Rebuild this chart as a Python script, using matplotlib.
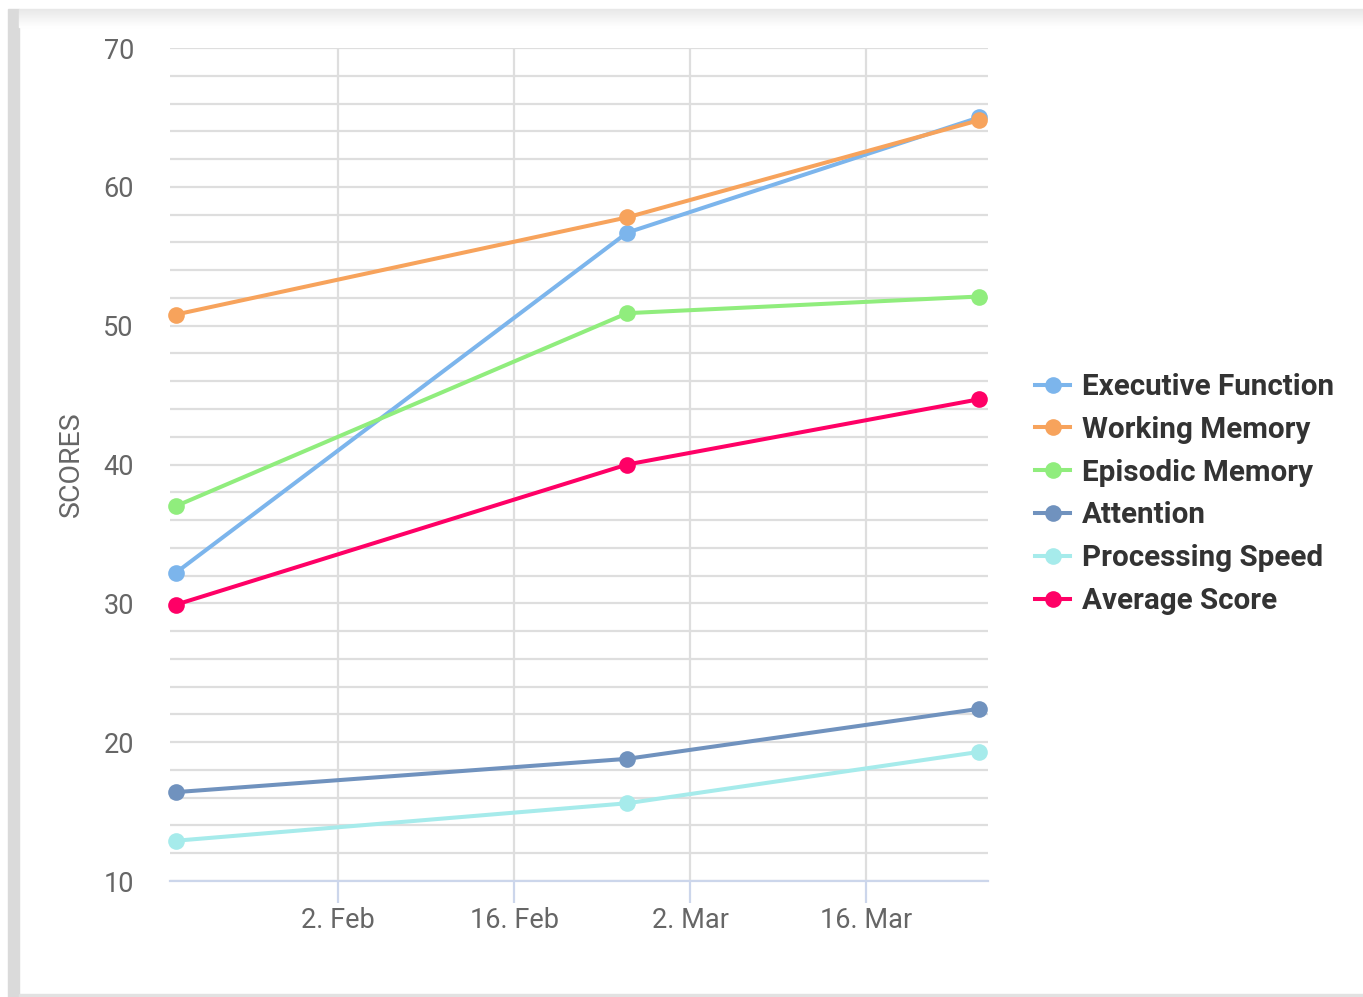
import datetime as dt
import numpy as np
import matplotlib.pyplot as plt
import matplotlib.dates as mdates
from matplotlib.patches import Rectangle
from matplotlib.lines import Line2D

plt.rcParams['font.family'] = ['Roboto', 'DejaVu Sans']

# Data
dates = [dt.datetime(2015, 1, 20, 2), dt.datetime(2015, 2, 25), dt.datetime(2015, 3, 25)]
series_names = ['Executive Function', 'Working Memory', 'Episodic Memory',
                'Attention', 'Processing Speed', 'Average Score']
executive = [32.2, 56.7, 65.0]
working = [50.8, 57.8, 64.8]
episodic = [37.0, 50.9, 52.1]
attention = [16.4, 18.8, 22.4]
processing = [12.9, 15.6, 19.3]
average = [29.9, 40.0, 44.7]
colors = ['#7cb5ec', '#f7a35c', '#90ed7d', '#7092be', '#a6ebeb', '#ff0066']
tick_dates = [dt.datetime(2015, 2, 2), dt.datetime(2015, 2, 16),
              dt.datetime(2015, 3, 2), dt.datetime(2015, 3, 16)]
tick_labels = ['2. Feb', '16. Feb', '2. Mar', '16. Mar']

fig = plt.figure(figsize=(13.63, 9.97), dpi=100)

# page frame decorations
fig.patches.append(Rectangle((8 / 1363, 0), 11 / 1363, 1 - 9 / 997, transform=fig.transFigure,
                             color='#dadada', zorder=0))
for i in range(18):
    c = 0.91 + 0.09 * i / 18
    fig.patches.append(Rectangle((19 / 1363, 1 - (10 + i) / 997), 1, 1 / 997,
                                 transform=fig.transFigure, color=(c, c, c), zorder=0))
fig.patches.append(Rectangle((19 / 1363, 0), 1, 3 / 997, transform=fig.transFigure,
                             color='#e2e2e2', zorder=0))

ax = fig.add_axes([170 / 1363, 1 - 881 / 997, 818 / 1363, 833 / 997])

all_series = [executive, working, episodic, attention, processing, average]
for name, vals, col in zip(series_names, all_series, colors):
    ax.plot(dates, vals, color=col, lw=2.9, marker='o', markersize=12,
            markeredgewidth=0, label=name, zorder=3, clip_on=False)

ax.set_ylim(10, 70)
ax.set_xlim(mdates.date2num(dt.datetime(2015, 1, 19, 15)),
            mdates.date2num(dt.datetime(2015, 3, 25, 17)))

ax.set_yticks(np.arange(10, 71, 2), minor=True)
ax.set_yticks(np.arange(10, 71, 10))
ax.grid(True, axis='y', which='both', color='#dedede', lw=1.6, zorder=0)
ax.set_xticks([mdates.date2num(d) for d in tick_dates])
ax.set_xticklabels(tick_labels)
ax.grid(True, axis='x', color='#dedede', lw=1.6, zorder=0)

for s in ['top', 'right', 'left']:
    ax.spines[s].set_visible(False)
ax.spines['bottom'].set_color('#ccd6eb')
ax.spines['bottom'].set_linewidth(1.6)
ax.tick_params(axis='x', length=16, width=1.6, color='#ccd6eb', pad=3,
               labelsize=19.5, labelcolor='#666666')
ax.tick_params(axis='y', which='both', length=0, pad=26, labelsize=19.5, labelcolor='#666666')

ax.set_ylabel('SCORES', fontsize=20.5, color='#666666', labelpad=13)

handles = [Line2D([0], [0], color=c, lw=2.9, marker='o', markersize=12, markeredgewidth=0)
           for c in colors]
leg = fig.legend(handles, series_names, loc='center left', bbox_to_anchor=(1020 / 1363, 1 - 494 / 997),
                 frameon=False, prop={'weight': 'bold', 'size': 21.3}, handlelength=1.2,
                 handletextpad=0.4, labelspacing=0.5, borderpad=0)
for t in leg.get_texts():
    t.set_color('#333333')

fig.savefig('out.png', dpi=100)
